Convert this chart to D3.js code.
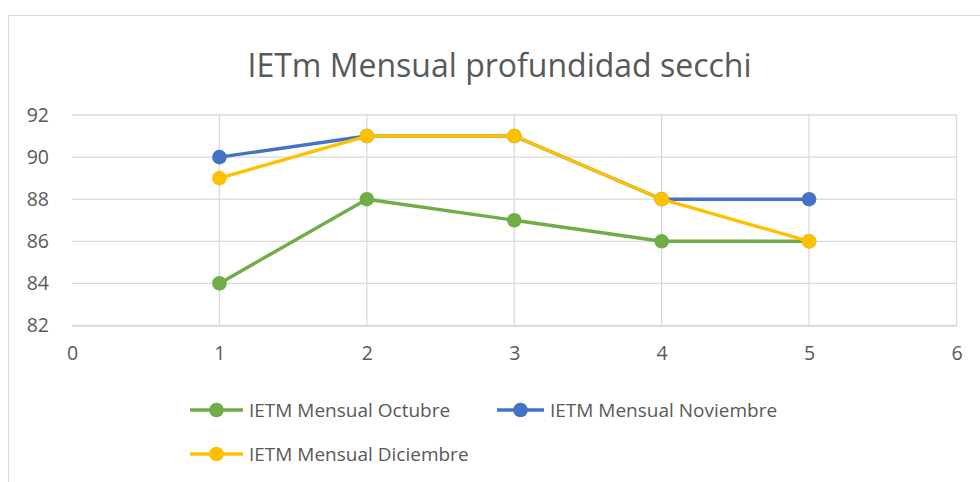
<!DOCTYPE html>
<html><head><meta charset="utf-8">
<script src="https://cdn.jsdelivr.net/npm/d3@7"></script>
<style>body{margin:0;background:#fff}svg{display:block}text{font-family:"Open Sans",sans-serif;fill:#595959}</style>
</head><body><svg id="c" width="980" height="482"></svg>
<script>
const title = "IETm Mensual profundidad secchi";
const xValues = [1, 2, 3, 4, 5];
const seriesNames = ["IETM Mensual Octubre", "IETM Mensual Noviembre", "IETM Mensual Diciembre"];
const octubre = [84, 88, 87, 86, 86];
const noviembre = [90, 91, 91, 88, 88];
const diciembre = [89, 91, 91, 88, 86];
const colors = ["#70AD47", "#4472C4", "#FFC000"];
const xTicks = [0, 1, 2, 3, 4, 5, 6];
const yTicks = [82, 84, 86, 88, 90, 92];

const svg = d3.select("#c");
svg.append("rect").attr("x", 8.5).attr("y", 15.5).attr("width", 990).attr("height", 500)
  .attr("fill", "none").attr("stroke", "#d9d9d9").attr("stroke-width", 1);

const x = d3.scaleLinear().domain([0, 6]).range([72, 956.5]);
const y = d3.scaleLinear().domain([82, 92]).range([325.5, 115]);

svg.append("text").attr("x", 499.5).attr("y", 77).attr("text-anchor", "middle")
  .style("font-size", "32px").text(title);

const grid = svg.append("g");
grid.selectAll("line.h").data(yTicks).join("line")
  .attr("x1", x(0)).attr("x2", x(6)).attr("y1", d => y(d)).attr("y2", d => y(d))
  .attr("stroke", "#d9d9d9").attr("stroke-width", 1.3);
grid.selectAll("line.v").data(xTicks.filter(d => d > 0)).join("line")
  .attr("x1", d => x(d)).attr("x2", d => x(d)).attr("y1", y(82)).attr("y2", y(92))
  .attr("stroke", "#d9d9d9").attr("stroke-width", 1.3);

const yAxis = d3.axisLeft(y).tickValues(yTicks).tickSize(0).tickPadding(23).tickFormat(d3.format("d"));
const gy = svg.append("g").attr("transform", `translate(${x(0)},0)`).call(yAxis);
gy.select(".domain").remove();
gy.selectAll("text").style("font-size", "19.5px").style("fill", "#595959").style("font-family", "Open Sans");

const xAxis = d3.axisBottom(x).tickValues(xTicks).tickSize(0).tickPadding(21).tickFormat(d3.format("d"));
const gx = svg.append("g").attr("transform", `translate(0,${y(82)})`).call(xAxis);
gx.select(".domain").attr("stroke", "#d9d9d9").attr("stroke-width", 1.3);
gx.selectAll("text").style("font-size", "19.5px").style("fill", "#595959").style("font-family", "Open Sans");

const allSeries = [octubre, noviembre, diciembre];
const line = d3.line().x((d, i) => x(xValues[i])).y(d => y(d));
allSeries.forEach((s, k) => {
  const g = svg.append("g");
  g.append("path").datum(s).attr("d", line).attr("fill", "none")
    .attr("stroke", colors[k]).attr("stroke-width", 3.4).attr("stroke-linejoin", "round");
  g.selectAll("circle").data(s).join("circle")
    .attr("cx", (d, i) => x(xValues[i])).attr("cy", d => y(d)).attr("r", 7.3)
    .attr("fill", colors[k]);
});

const legendPos = [[190, 410, 53], [497, 410, 47], [190, 454, 53]];
seriesNames.forEach((n, k) => {
  const [lx, ly, lw] = legendPos[k];
  const g = svg.append("g");
  g.append("line").attr("x1", lx).attr("x2", lx + lw).attr("y1", ly).attr("y2", ly)
    .attr("stroke", colors[k]).attr("stroke-width", 3.4);
  g.append("circle").attr("cx", lx + lw / 2).attr("cy", ly).attr("r", 7.3).attr("fill", colors[k]);
  g.append("text").attr("x", lx + lw + 6).attr("y", ly).attr("dy", "0.35em")
    .style("font-size", "19px").text(n);
});
</script></body></html>
